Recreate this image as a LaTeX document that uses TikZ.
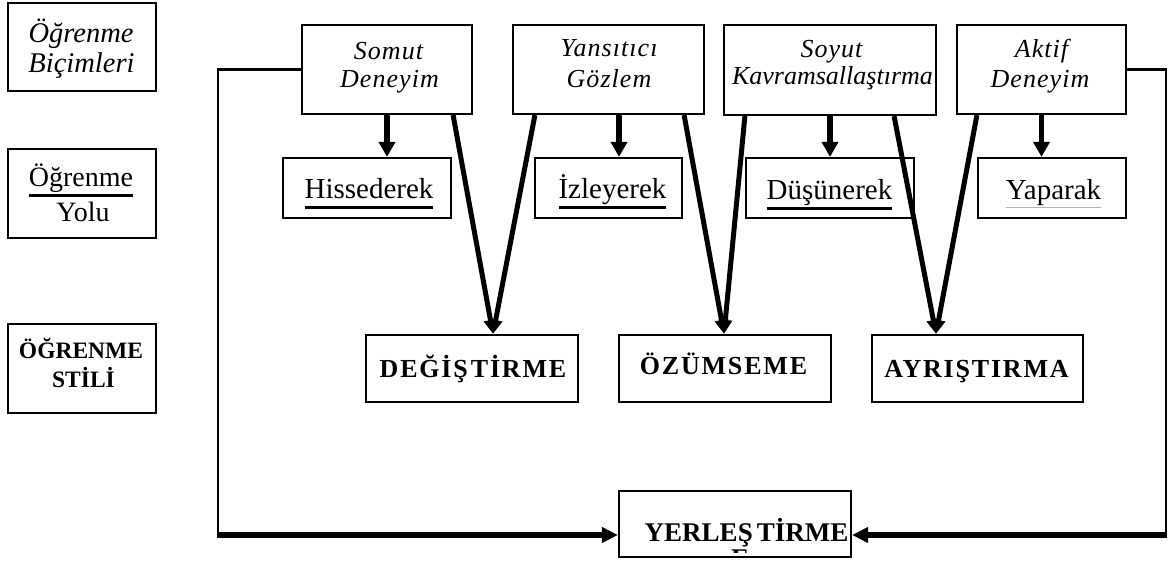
\documentclass[tikz,border=0pt]{standalone}
\usepackage{fontspec}
\setmainfont{Liberation Serif}
\usetikzlibrary{arrows.meta,calc}
\begin{document}
\begin{tikzpicture}[x=1pt,y=-1pt,
  bx/.style={draw,line width=2.2pt,inner sep=0pt},
  tx/.style={anchor=base,inner sep=0pt,outer sep=0pt},
  fLeftI/.style={font=\fontsize{28.5}{30}\selectfont\itshape},
  fLeftR/.style={font=\fontsize{28}{30}\selectfont},
  fLeftB/.style={font=\fontsize{23.5}{26}\selectfont\bfseries},
  fTop/.style={font=\fontsize{26}{28}\selectfont\itshape\addfontfeatures{LetterSpace=4}},
  fTopK/.style={font=\fontsize{26}{28}\selectfont\itshape},
  fRow/.style={font=\fontsize{29}{31}\selectfont},
  fStyle/.style={font=\fontsize{26}{28}\selectfont\bfseries\addfontfeatures{LetterSpace=7}},
  fYer/.style={font=\fontsize{27}{29}\selectfont\bfseries},
  ul/.style={line width=3pt},
  ulthin/.style={line width=1pt,draw=gray!60},
  sarr/.style={line width=5.5pt,-{Triangle[length=15pt,width=16pt]}},
  darr/.style={line width=5pt,-{Triangle[length=14pt,width=13pt]}},
  barr/.style={line width=6pt,-{Triangle[length=16pt,width=15pt]}},
  thin/.style={line width=2.5pt}]
\useasboundingbox (0,0) rectangle (1169,561);

% left legend boxes
\node[bx,minimum width=148pt,minimum height=88pt] (lb1) at (82,47) {};
\node[tx,fLeftI] (lb1a) at (81,43) {Öğrenme};
\node[tx,fLeftI] (lb1b) at (81.5,73) {Biçimleri};

\node[bx,minimum width=148pt,minimum height=89pt] (lb2) at (82,193.5) {};
\node[tx,fLeftR] (lb2a) at (81,186.5) {Öğrenme};
\draw[ul] ([yshift=-9.5pt]lb2a.base west) -- ([yshift=-9.5pt]lb2a.base east);
\node[tx,fLeftR] (lb2b) at (83,221.5) {Yolu};

\node[bx,minimum width=148pt,minimum height=89pt] (lb3) at (82,368.5) {};
\node[tx,fLeftB] (lb3a) at (81,358) {ÖĞRENME};
\node[tx,fLeftB] (lb3b) at (83.5,387) {STİLİ};

% top row
\node[bx,minimum width=170pt,minimum height=89pt] (somut) at (387,69.5) {};
\node[tx,fTop] (somuta) at (388.5,60) {Somut};
\node[tx,fTop] (somutb) at (389.5,88) {Deneyim};

\node[bx,minimum width=191pt,minimum height=89pt] (yans) at (608.5,69.5) {};
\node[tx,fTop] (yansa) at (609,57) {Yansıtıcı};
\node[tx,fTop] (yansb) at (609,88) {Gözlem};

\node[bx,minimum width=212pt,minimum height=90pt] (soyut) at (830,70) {};
\node[tx,fTop] (soyuta) at (831.5,58) {Soyut};
\node[tx,fTopK] (soyutb) at (832.5,85) {Kavramsallaştırma};

\node[bx,minimum width=169pt,minimum height=89pt] (aktif) at (1041.5,69.5) {};
\node[tx,fTop] (aktifa) at (1041.5,58) {Aktif};
\node[tx,fTop] (aktifb) at (1040,88) {Deneyim};

% second row
\node[bx,minimum width=168pt,minimum height=60pt] (his) at (367,188) {};
\node[tx,fRow] (hist) at (369,199) {Hissederek};
\draw[ul] ([yshift=-8.5pt]hist.base west) -- ([yshift=-8.5pt]hist.base east);

\node[bx,minimum width=147pt,minimum height=60pt] (izl) at (608.5,188) {};
\node[tx,fRow] (izlt) at (612.5,199) {İzleyerek};
\draw[ul] ([yshift=-8.5pt]izlt.base west) -- ([yshift=-8.5pt]izlt.base east);

\node[bx,minimum width=168pt,minimum height=60pt] (dus) at (830,188) {};
\node[tx,fRow] (dust) at (829.5,200) {Düşünerek};
\draw[ul] ([yshift=-8.5pt]dust.base west) -- ([yshift=-8.5pt]dust.base east);

\node[bx,minimum width=148pt,minimum height=60pt] (yap) at (1052,188) {};
\node[tx,fRow] (yapt) at (1053.5,200) {Yaparak};
\draw[ulthin] ([yshift=-8pt]yapt.base west) -- ([yshift=-8pt]yapt.base east);

% third row
\node[bx,minimum width=212pt,minimum height=67pt] (deg) at (472,368.5) {};
\node[tx,fStyle] (degt) at (473,377) {DEĞİŞ\kern3ptTİRME};

\node[bx,minimum width=212pt,minimum height=67pt] (ozu) at (725,368.5) {};
\node[tx,fStyle] (ozut) at (723.5,374) {ÖZÜMSEME};

\node[bx,minimum width=211pt,minimum height=67pt] (ayr) at (977.5,368.5) {};
\node[tx,fStyle] (ayrt) at (976.5,377) {AYRIŞTIRMA};

% bottom
\node[bx,minimum width=232pt,minimum height=66pt] (yer) at (735,524) {};
\node[tx,fYer] (yert) at (746.5,541) {YERLEŞ\kern4ptTİRME};
\begin{scope}
  \clip (620,492) rectangle (850,552.5);
  \node[tx,fYer] (yerE) at (740,567.5) {E};
\end{scope}

% short vertical arrows
\coordinate (ya) at ($(yans.south)+(10.5,0)$);
\draw[sarr] (somut.south) -- (somut.south |- his.north);
\draw[sarr] (ya) -- (ya |- izl.north);
\draw[sarr] (soyut.south) -- (soyut.south |- dus.north);
\draw[sarr] (aktif.south) -- (aktif.south |- yap.north);

% diagonal arrows
\draw[darr] ($(somut.south east)+(-20,0)$) -- ($(deg.north)+(21,0)$);
\draw[darr] ($(yans.south west)+(23,0)$) -- ($(deg.north)+(21,0)$);
\draw[darr] ($(yans.south east)+(-21,0)$) -- ($(ozu.north)+(-1,0)$);
\draw[darr] ($(soyut.south west)+(22,0)$) -- ($(ozu.north)+(-1,0)$);
\draw[darr] ($(soyut.south east)+(-43,0)$) -- ($(ayr.north)+(-41.5,0)$);
\draw[darr] ($(aktif.south west)+(21,0)$) -- ($(ayr.north)+(-41.5,0)$);

% outer loop
\coordinate (bl) at (218,535);
\coordinate (br) at (1166,535);
\draw[thin] (somut.west) -| (bl);
\draw[thin] (aktif.east) -| (br);
\draw[barr] ([xshift=-1.25pt]bl) -- (bl -| yer.west);
\draw[barr] ([xshift=1.25pt]br) -- (br -| yer.east);
\end{tikzpicture}
\end{document}
